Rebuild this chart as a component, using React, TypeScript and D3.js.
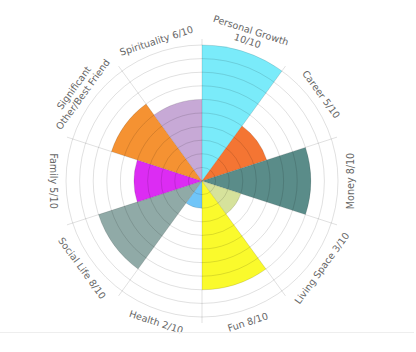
import React from 'react';
import * as d3 from 'd3';

const categories = [
  'Personal Growth',
  'Career',
  'Money',
  'Living Space',
  'Fun',
  'Health',
  'Social Life',
  'Family',
  'Significant Other/Best Friend',
  'Spirituality',
];
const scores = [10, 5, 8, 3, 8, 2, 8, 5, 7, 6];
const labels = [
  ['Personal Growth', '10/10'],
  ['Career 5/10'],
  ['Money 8/10'],
  ['Living Space 3/10'],
  ['Fun 8/10'],
  ['Health 2/10'],
  ['Social Life 8/10'],
  ['Family 5/10'],
  ['Significant', 'Other/Best Friend'],
  ['Spirituality 6/10'],
];
const colors = [
  '#7aebfa', '#f47533', '#5a8c89', '#d6e29b', '#fafa2c',
  '#70c5f8', '#90aaa7', '#dc2cf3', '#f59232', '#c7a9d6',
];

export default function App() {
  const width = 416;
  const height = 352;
  const cx = 202;
  const cy = 181;
  const R = 136;
  const maxScore = 10;

  const angle = d3.scaleBand<string>()
    .domain(categories)
    .range([0, 2 * Math.PI]);

  const r = d3.scaleLinear().domain([0, maxScore]).range([0, R]);

  const arc = d3.arc<any>()
    .innerRadius(0)
    .outerRadius((d: any) => r(d.score))
    .startAngle((d: any) => angle(d.cat)!)
    .endAngle((d: any) => angle(d.cat)! + angle.bandwidth());

  const data = categories.map((cat, i) => ({ cat, score: scores[i], color: colors[i], label: labels[i] }));
  const rings = d3.range(1, maxScore + 1);
  const fontSize = 9.6;
  const lineH = 11;

  return (
    <div style={{ position: 'absolute', left: 0, top: 0 }}>
      <svg width={width} height={height} style={{ display: 'block' }}>
        <rect width={width} height={height} fill="#fff" />
        <g transform={`translate(${cx},${cy})`}>
          {/* sectors */}
          {data.map(d => (
            <path key={d.cat} d={arc(d) as string} fill={d.color} />
          ))}

          {/* grid rings */}
          {rings.map(k => (
            <circle key={k} r={r(k)} fill="none" stroke="rgba(0,0,0,0.12)" strokeWidth={1} />
          ))}

          {/* spokes */}
          {categories.map(c => {
            const a = angle(c)!;
            return (
              <line key={c} x1={0} y1={0}
                x2={(R + 6) * Math.sin(a)} y2={-(R + 6) * Math.cos(a)}
                stroke="rgba(0,0,0,0.12)" strokeWidth={1} />
            );
          })}

          {/* labels */}
          {data.map(d => {
            const mid = ((angle(d.cat)! + angle.bandwidth() / 2) * 180) / Math.PI;
            const upper = mid < 90 || mid > 270;
            if (upper) {
              const lines = [...d.label].reverse();
              return (
                <g key={d.cat} transform={`rotate(${mid})`}>
                  {lines.map((t, i) => (
                    <text key={t} x={0} y={-(R + 8) - i * lineH} textAnchor="middle"
                      fontFamily="'DejaVu Sans', sans-serif" fontSize={fontSize} fill="#666">{t}</text>
                  ))}
                </g>
              );
            }
            return (
              <g key={d.cat} transform={`rotate(${mid - 180})`}>
                {d.label.map((t, i) => (
                  <text key={t} x={0} y={R + 8 + fontSize * 0.8 + i * lineH} textAnchor="middle"
                    fontFamily="'DejaVu Sans', sans-serif" fontSize={fontSize} fill="#666">{t}</text>
                ))}
              </g>
            );
          })}
        </g>
        <line x1={0} x2={414} y1={332.5} y2={332.5} stroke="#eee" strokeWidth={1} />
      </svg>
    </div>
  );
}
